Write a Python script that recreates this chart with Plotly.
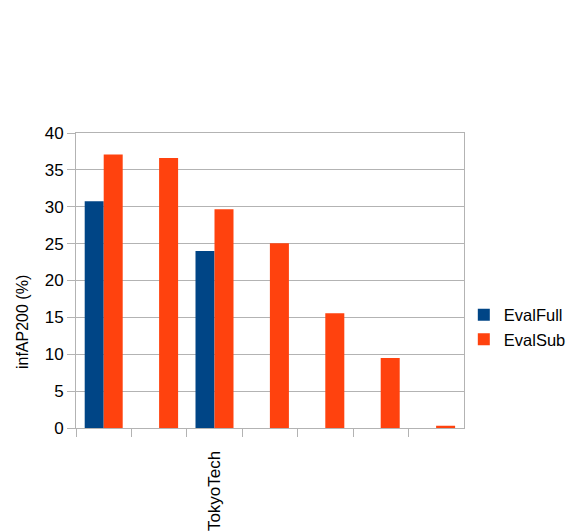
import plotly.graph_objects as go

categories = ["c1", "c2", "TokyoTech", "c4", "c5", "c6", "c7"]
tick_labels = ["", "", "TokyoTech", "", "", "", ""]
eval_full = [30.75, None, 24.0, None, None, None, None]
eval_sub = [37.1, 36.6, 29.65, 25.05, 15.55, 9.5, 0.3]

fig = go.Figure()
fig.add_trace(go.Bar(x=categories, y=eval_full, name="EvalFull", marker_color="#004586",
                     marker_line_width=0, legendgroup="a"))
fig.add_trace(go.Bar(x=categories, y=eval_sub, name="EvalSub", marker_color="#ff420e",
                     marker_line_width=0, legendgroup="b"))

font = "Liberation Sans, Arial, sans-serif"
fig.update_layout(
    width=567, height=532,
    margin=dict(l=76, r=103, t=133, b=104),
    paper_bgcolor="white", plot_bgcolor="white",
    barmode="group", bargap=0.314, bargroupgap=0,
    font=dict(family=font, size=17, color="#000000"),
    legend=dict(xref="container", yref="container", x=0.818, xanchor="left",
                y=1 - 327 / 532, yanchor="middle", traceorder="grouped",
                bgcolor="rgba(0,0,0,0)",
                font=dict(size=16.5), itemwidth=30, tracegroupgap=0),
    showlegend=True,
    annotations=[dict(text="infAP200 (%)", xref="paper", yref="paper",
                      x=(22 - 76) / 388, y=(428 - 322) / 295,
                      xanchor="center", yanchor="middle", textangle=-90,
                      showarrow=False, font=dict(size=16))],
)
fig.update_xaxes(
    type="category", tickmode="array", tickvals=categories, ticktext=tick_labels,
    tickson="boundaries", ticks="outside", ticklen=8, tickcolor="#b3b3b3",
    tickangle=-90, showgrid=False, showline=True, linecolor="#b3b3b3",
    mirror=True, zeroline=False, tickfont=dict(size=17), automargin=False,
    ticklabelstandoff=15,
)
fig.update_yaxes(
    range=[0, 40], dtick=5, ticks="outside", ticklen=8, tickcolor="#b3b3b3",
    showgrid=True, gridcolor="#b3b3b3", showline=True, linecolor="#b3b3b3",
    mirror=True, zeroline=False, tickfont=dict(size=17), automargin=False,
)
fig.write_html("out.html", config={"displayModeBar": False},
               post_script="document.body.style.margin='0';")
